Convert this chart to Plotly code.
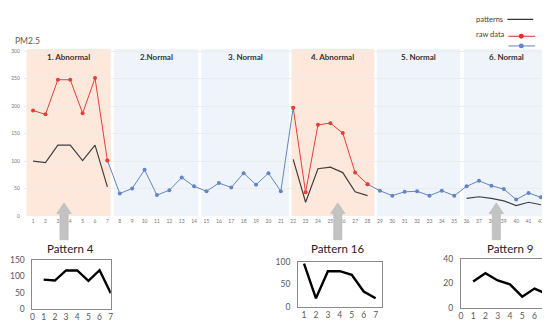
import plotly.graph_objects as go

# ---------------- data ----------------
days = list(range(1, 43))
pm25_raw = [192, 185, 248, 248, 187, 251, 101,
            41, 50, 84, 38, 47, 70, 54,
            45, 60, 52, 78, 57, 78, 45,
            197, 43, 166, 169, 151, 79, 58,
            46, 37, 44, 45, 37, 46, 37,
            54, 64, 55, 49, 30, 42, 34]

region_labels = ["1. Abnormal", "2.Normal", "3. Normal", "4. Abnormal", "5. Normal", "6. Normal"]
region_days = [(1, 7), (8, 14), (15, 21), (22, 28), (29, 35), (36, 42)]
region_abnormal = [True, False, False, True, False, False]

pattern_start_days = [1, 22, 36]
pattern_values = [[100, 97, 129, 129, 101, 129, 53],
                  [103, 25, 86, 89, 79, 44, 37],
                  [32, 35, 32, 27.5, 19, 25, 20.5]]

inset_titles = ["Pattern 4", "Pattern 16", "Pattern 9"]
inset_x = [1, 2, 3, 4, 5, 6, 7]
pattern4 = [90, 87, 118, 118, 86, 119, 48]
pattern16 = [96, 19, 79, 79, 71, 34, 19]
pattern9 = [21.6, 28.3, 22.4, 19.2, 9, 15.7, 11.2]

y_ticks_main = [0, 50, 100, 150, 200, 250, 300]

# ---------------- helpers / layout constants ----------------
W, H = 550, 322
def pxx(x): return x / W
def pxy(y): return 1 - y / H

FONT = "Lato, 'Open Sans', sans-serif"
RED = "#e2403a"
BLUE = "#6385c4"
BLACK = "#404040"
PINK_BG = "#fde8db"
BLUE_BG = "#eff3fa"

# region shading edges (in day units)
region_x0 = [0.47, 7.54, 14.58, 21.86, 28.74, 35.78]
region_x1 = [7.27, 14.34, 21.67, 28.55, 35.46, 42.74]

def region_of(d):
    for i, (a, b) in enumerate(region_days):
        if a <= d <= b:
            return i
    return None

def is_normal(d):
    r = region_of(d)
    return r is not None and not region_abnormal[r]

red_y = [v if (region_of(d) is not None and region_abnormal[region_of(d)]) else None
         for d, v in zip(days, pm25_raw)]
blue_y = [v if (is_normal(d) or is_normal(d - 1) or is_normal(d + 1)) else None
          for d, v in zip(days, pm25_raw)]
pattern_y = [None] * len(days)
for s, vals in zip(pattern_start_days, pattern_values):
    for k, v in enumerate(vals):
        pattern_y[s - 1 + k] = v

fig = go.Figure()

fig.add_trace(go.Scatter(x=days, y=pattern_y, mode="lines", line=dict(color=BLACK, width=1.2),
                         connectgaps=False, showlegend=False, hoverinfo="skip"))
fig.add_trace(go.Scatter(x=days, y=blue_y, mode="lines+markers", line=dict(color=BLUE, width=1),
                         marker=dict(color=BLUE, size=4), connectgaps=False, showlegend=False))
fig.add_trace(go.Scatter(x=days, y=red_y, mode="lines+markers", line=dict(color=RED, width=1),
                         marker=dict(color=RED, size=4), connectgaps=False, showlegend=False))

# insets
inset_data = [pattern4, pattern16, pattern9]
for i, vals in enumerate(inset_data):
    fig.add_trace(go.Scatter(x=inset_x, y=vals, mode="lines", line=dict(color="black", width=2.4),
                             xaxis=f"x{i+2}", yaxis=f"y{i+2}", showlegend=False))

# main axes
x_lo = (14 - 23.3) / 12.5 + 1
x_hi = (548 - 23.3) / 12.5 + 1
fig.update_layout(
    xaxis=dict(domain=[pxx(14), pxx(548)], range=[x_lo, x_hi], tickmode="array", tickvals=days,
               ticktext=[str(d) for d in days], tickfont=dict(size=5, color="#777", family=FONT),
               showgrid=False, zeroline=False, showline=False, ticks="", ticklabelstandoff=1),
    yaxis=dict(domain=[pxy(209.5), pxy(36)], range=[0, 306], tickvals=y_ticks_main,
               tickfont=dict(size=5, color="#777", family=FONT), showgrid=True,
               gridcolor="#ececec", gridwidth=1, zeroline=False, showline=False, ticks="",
               ticklabelstandoff=3),
)

inset_specs = [
    # (x domain px, y domain px (top,bottom), xrange, yrange, xticks, yticks)
    ((22.7, 101.7), (255, 305.3), [0, 7], [0, 150], list(range(0, 8)), [0, 50, 100, 150]),
    ((290.7, 375), (256.7, 303.3), [0.5, 7.5], [0, 100], list(range(1, 8)), [0, 50, 100]),
    ((455, 541.7), (254, 304), [0, 7], [0, 40], list(range(0, 8)), [0, 20, 40]),
]
for i, (xd, yd, xr, yr, xt, yt) in enumerate(inset_specs):
    n = i + 2
    fig.update_layout(**{
        f"xaxis{n}": dict(domain=[pxx(xd[0]), pxx(xd[1])], range=xr, tickvals=xt, anchor=f"y{n}",
                          showgrid=False, zeroline=False, showline=True, mirror=True,
                          linecolor="#8a8a8a", linewidth=1, ticks="",
                          tickfont=dict(size=8.5, color="#595959", family=FONT),
                          ticklabelstandoff=0),
        f"yaxis{n}": dict(domain=[pxy(yd[1]), pxy(yd[0])], range=yr, tickvals=yt, anchor=f"x{n}",
                          showgrid=False, zeroline=False, showline=True, mirror=True,
                          linecolor="#8a8a8a", linewidth=1, ticks="",
                          tickfont=dict(size=8.5, color="#595959", family=FONT),
                          ticklabelstandoff=5),
    })

shapes = []
annotations = []

# region shading and labels
for lbl, x0, x1, ab in zip(region_labels, region_x0, region_x1, region_abnormal):
    shapes.append(dict(type="rect", xref="x", yref="y", x0=x0, x1=x1, y0=0, y1=304,
                       fillcolor=PINK_BG if ab else BLUE_BG, line=dict(width=0), layer="below"))
    annotations.append(dict(text=f"<b>{lbl}</b>", xref="x", yref="paper", x=(x0 + x1) / 2,
                            y=pxy(45.5), showarrow=False, xanchor="center", yanchor="middle",
                            font=dict(size=8, color="#333", family=FONT)))

# grey block arrows
arrow_days = [3.5, 25.6, 38.4]
for cx in arrow_days:
    hw, sw = 0.58, 0.33
    top, base, bot = 196, 207, 234
    path = (f"M {cx},{pxy(top)} L {cx+hw},{pxy(base)} L {cx+sw},{pxy(base)} L {cx+sw},{pxy(bot)} "
            f"L {cx-sw},{pxy(bot)} L {cx-sw},{pxy(base)} L {cx-hw},{pxy(base)} Z")
    shapes.append(dict(type="path", xref="x", yref="paper", path=path, fillcolor="#c3c3c3",
                       line=dict(color="#b3b3b3", width=0.6), layer="above"))

# manual legend
shapes.append(dict(type="line", xref="paper", yref="paper", x0=pxx(502), x1=pxx(528),
                   y0=pxy(6.5), y1=pxy(6.5), line=dict(color="black", width=1)))
for yy, col in [(24, "#e8282a"), (34, BLUE)]:
    shapes.append(dict(type="line", xref="paper", yref="paper", x0=pxx(503), x1=pxx(530),
                       y0=pxy(yy), y1=pxy(yy), line=dict(color=col, width=1)))
    shapes.append(dict(type="circle", xref="paper", yref="paper", x0=pxx(513.5), x1=pxx(518.5),
                       y0=pxy(yy + 2.5), y1=pxy(yy - 2.5), fillcolor=col, line=dict(width=0)))
annotations.append(dict(text="patterns", xref="paper", yref="paper", x=pxx(468), y=pxy(7),
                        showarrow=False, xanchor="left", yanchor="middle",
                        font=dict(size=7.5, color="#404040", family=FONT)))
annotations.append(dict(text="raw data", xref="paper", yref="paper", x=pxx(468), y=pxy(22),
                        showarrow=False, xanchor="left", yanchor="middle",
                        font=dict(size=7.5, color="#404040", family=FONT)))

# PM2.5 label
annotations.append(dict(text="PM2.5", xref="paper", yref="paper", x=pxx(3), y=pxy(29),
                        showarrow=False, xanchor="left", yanchor="middle",
                        font=dict(size=8.5, color="#595959", family=FONT)))

# inset titles
for t, cx in zip(inset_titles, [61, 330, 505]):
    annotations.append(dict(text=t, xref="paper", yref="paper", x=pxx(cx), y=pxy(243.5),
                            showarrow=False, xanchor="center", yanchor="middle",
                            font=dict(size=11.5, color="#222", family=FONT)))

fig.update_layout(width=W, height=H, autosize=False, margin=dict(l=0, r=0, t=0, b=0),
                  paper_bgcolor="white", plot_bgcolor="rgba(0,0,0,0)",
                  shapes=shapes, annotations=annotations, showlegend=False,
                  font=dict(family=FONT))

fig.write_html("out.html")
